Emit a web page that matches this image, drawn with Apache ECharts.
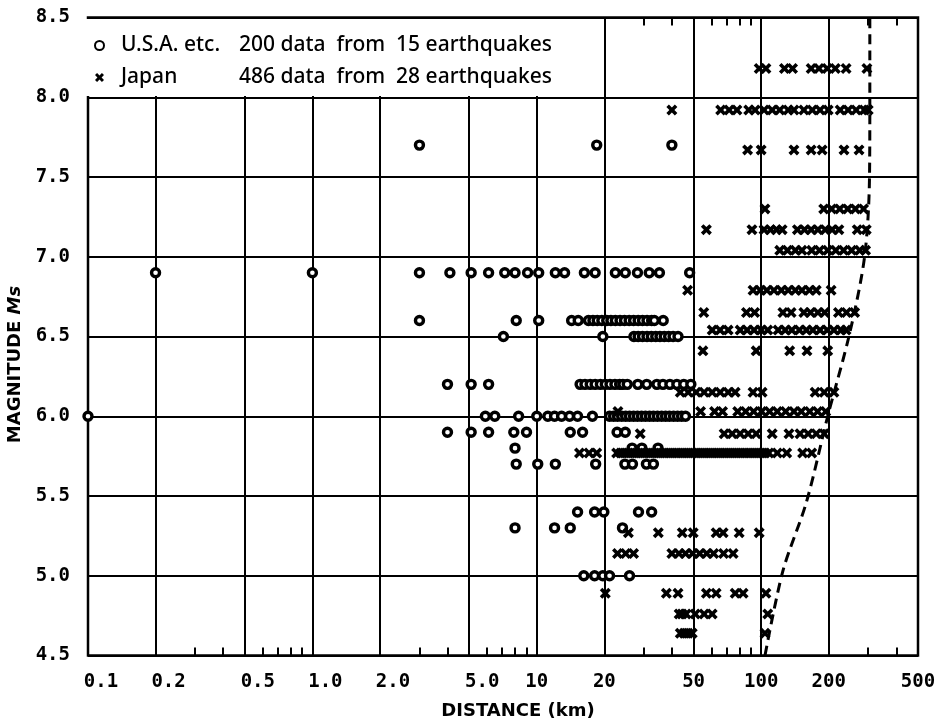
<!DOCTYPE html>
<html><head><meta charset="utf-8">
<script src="https://cdn.jsdelivr.net/npm/echarts@6/dist/echarts.min.js"></script>
<style>html,body{margin:0;padding:0;background:#fff}#c{width:943px;height:720px}</style>
</head><body><div id="c"></div>
<script>
// ---- axis ticks ----
const xTickValues = [0.1, 0.2, 0.5, 1, 2, 5, 10, 20, 50, 100, 200, 500];
const xTickLabels = ['0.1', '0.2', '0.5', '1.0', '2.0', '5.0', '10', '20', '50', '100', '200', '500'];
const xMinorTicks = [0.3, 0.4, 0.6, 0.7, 0.8, 0.9, 3, 4, 6, 7, 8, 9, 30, 40, 60, 70, 80, 90, 300, 400];

// ---- legend ----
const seriesNames = ['U.S.A. etc.', 'Japan'];
const legendNotes = ['200 data  from  15 earthquakes', '486 data  from  28 earthquakes'];

// ---- U.S.A. etc. : magnitude rows and distances (km) ----
const usaMag = [7.7, 6.9, 6.6, 6.5, 6.2, 6.0, 5.9, 5.8, 5.7, 5.4, 5.3, 5.0];
const usaDist = [
  [3.0, 18.5, 40],
  [0.2, 1.0, 3.0, 4.1, 5.1, 6.1, 7.2, 8.0, 9.1, 10.2, 12.1, 13.3, 16.3, 18.2, 22.4, 24.8, 28.1, 31.7, 35.2, 48],
  [3.0, 8.1, 10.2, 14.3, 15.3, 17.0, 17.8, 18.6, 19.5, 20.5, 21.4, 22.4, 23.5, 24.6, 25.8, 27.0, 28.3, 29.6, 31.0, 32.5, 33.4, 36.6],
  [7.1, 19.7, 27.1, 28.3, 29.6, 31.0, 32.4, 33.9, 35.4, 37.0, 38.7, 40.5, 42.6],
  [4.0, 5.1, 6.1, 15.6, 16.4, 17.3, 18.2, 19.2, 20.2, 21.2, 22.3, 23.4, 24.2, 25.3, 28.2, 30.9, 34.3, 36.5, 39.2, 42.1, 45.2, 48.6],
  [0.1, 5.9, 6.5, 8.3, 10.0, 11.2, 12.0, 12.9, 14.0, 15.2, 17.7, 21.1, 22.0, 22.9, 23.9, 24.9, 25.9, 27.0, 28.1, 29.3, 30.5, 31.8, 33.1, 34.5, 36.0, 37.5, 39.0, 40.7, 42.4, 44.2, 46.0],
  [4.0, 5.1, 6.1, 7.9, 9.0, 14.1, 16.0, 22.8, 24.8],
  [8.0, 26.6, 29.4, 34.7],
  [8.1, 10.1, 12.1, 18.3, 24.7, 26.7, 30.8, 33.1],
  [15.2, 18.1, 19.9, 28.4, 32.5],
  [8.0, 12.0, 14.1, 24.1],
  [16.2, 18.1, 19.7, 21.1, 25.9]
];

// ---- Japan : magnitude rows and distances (km) ----
const japanMag = [8.18, 7.92, 7.67, 7.3, 7.17, 7.04, 6.79, 6.65, 6.54, 6.41, 6.15, 6.03, 5.89, 5.77, 5.27, 5.14, 4.89, 4.76, 4.64];
const japanDist = [
  [98, 105, 127, 138, 167, 181, 197, 214, 239, 296],
  [40, 66, 72, 78, 88, 94, 103, 112, 121, 132, 140, 155, 169, 183, 199, 225, 244, 265, 288, 300],
  [87, 100, 140, 167, 187, 234, 273],
  [104, 190, 206, 224, 243, 263, 286],
  [57, 91, 103, 110, 117, 124, 145, 156, 167, 179, 193, 207, 222, 268, 294],
  [121, 131, 142, 152, 168, 182, 198, 215, 233, 253, 275, 292],
  [47, 92, 99, 106, 114, 123, 132, 142, 152, 164, 176, 205],
  [55.5, 86, 93.5, 125, 136, 155, 166, 179, 192, 221, 240, 261],
  [60.5, 65.6, 71.3, 80.6, 86.6, 93, 100, 107, 119, 128, 137, 148, 159, 170, 183, 197, 211, 227, 239],
  [55, 95, 134, 160, 198],
  [43.6, 47.3, 51.3, 55.7, 60.5, 65.7, 71.3, 76.6, 92, 101, 174, 191, 211],
  [23, 53.7, 62, 67.3, 78.6, 85.3, 92.6, 100.5, 109, 118, 128.6, 140, 151, 164.6, 178.5, 194],
  [28.9, 68.4, 74.3, 80.6, 87.5, 95, 112, 133, 149, 162, 176, 191],
  [15.5, 17.1, 18.5, 22.7, 23.7, 24.7, 25.7, 26.8, 27.9, 29.1, 30.3, 31.6, 32.9, 34.3, 35.7, 37.2, 38.8, 40.4, 42.1, 43.9, 45.7, 47.6, 49.6, 51.7, 53.9, 56.1, 58.5, 60.9, 63.5, 66.1, 68.9, 71.8, 74.8, 77.9, 81.2, 84.6, 88.2, 91.9, 95.7, 99.7, 103.9, 108.2, 118, 130, 153, 168],
  [25.6, 34.8, 44.5, 49.8, 63, 67.7, 79.8, 98],
  [22.9, 24.9, 27, 40, 43, 46, 49.5, 53.2, 57.2, 61.4, 68, 75],
  [20.2, 37.8, 42.6, 57, 63, 76.6, 83.1, 105],
  [43.1, 44.4, 46.3, 50.8, 55.7, 60.5, 107],
  [43.6, 45.4, 47.3, 49.3, 104]
];

// ---- dashed limit curve (distance km, magnitude) ----
const curveDist = [104, 125, 159, 198, 248, 289, 304, 305, 305];
const curveMag  = [4.5, 5.03, 5.46, 6.0, 6.52, 7.0, 7.5, 8.0, 8.5];

function toPoints(mags, dists) {
  const out = [];
  mags.forEach((m, i) => dists[i].forEach(d => out.push([d, m])));
  return out;
}
function tickText(v) {
  const i = xTickValues.findIndex(t => Math.abs(Math.log10(t) - Math.log10(v)) < 1e-6);
  if (i < 0) return '';
  const s = xTickLabels[i];
  return s.indexOf('.') >= 0 ? '{d|' + s + '}' : '{n|' + s + '}';
}

const tickFont = { fontFamily: 'DejaVu Sans Mono', fontWeight: 'bold', fontSize: 19, color: '#000' };
const textFont = 'Noto Sans';
const nameFont = 'DejaVu Sans';
const crossPath = 'path://M0,2.3L2.3,0L5,2.7L7.7,0L10,2.3L7.3,5L10,7.7L7.7,10L5,7.3L2.3,10L0,7.7L2.7,5Z';
const legendTok = { fontSize: 21, fontFamily: textFont, fontWeight: 500, color: '#000', lineHeight: 26 };

const chart = echarts.init(document.getElementById('c'), null, { renderer: 'canvas' });
chart.setOption({
  backgroundColor: '#fff',
  animation: false,
  grid: {
    left: 88, right: 25, top: 17.5, bottom: 64.5, containLabel: false, outerBoundsMode: 'none',
    show: true, borderColor: '#000', borderWidth: 2.5, backgroundColor: 'transparent'
  },
  legend: {
    data: seriesNames,
    orient: 'vertical', left: 86, top: 19, itemGap: 11,
    padding: [16, 10, 8, 8],
    backgroundColor: '#fff',
    itemWidth: 9, itemHeight: 9,
    selectedMode: false,
    formatter: name => {
      const i = seriesNames.indexOf(name);
      return '{s| }{a|' + name + '}{b|' + legendNotes[i] + '}';
    },
    textStyle: {
      color: '#000', fontFamily: textFont, fontSize: 21,
      rich: {
        s: Object.assign({}, legendTok, { width: 12 }),
        a: Object.assign({}, legendTok, { width: 118 }),
        b: Object.assign({}, legendTok)
      }
    }
  },
  xAxis: [
    {
      type: 'log', min: 0.1, max: 500, position: 'bottom',
      name: 'DISTANCE (km)', nameLocation: 'middle', nameGap: 47,
      nameTextStyle: { fontFamily: nameFont, fontSize: 18, fontWeight: 'bold', color: '#000', padding: [0, 0, 0, 30] },
      axisLine: { show: false },
      axisTick: { show: false, customValues: xTickValues },
      axisLabel: {
        customValues: xTickValues, margin: 17, formatter: tickText,
        rich: {
          d: Object.assign({ padding: [0, 0, 0, 26] }, tickFont),
          n: Object.assign({}, tickFont)
        }
      },
      splitLine: { show: true, lineStyle: { color: '#000', width: 2 } }
    },
    {
      type: 'log', min: 0.1, max: 500, position: 'bottom',
      axisLine: { show: false },
      axisTick: { show: true, inside: true, length: 8, customValues: xMinorTicks, lineStyle: { color: '#000', width: 2 } },
      axisLabel: { show: false },
      splitLine: { show: false }
    },
    {
      type: 'log', min: 0.1, max: 500, position: 'top',
      axisLine: { show: false },
      axisTick: { show: true, inside: true, length: 8, customValues: xMinorTicks, lineStyle: { color: '#000', width: 2 } },
      axisLabel: { show: false },
      splitLine: { show: false }
    }
  ],
  yAxis: {
    type: 'value', min: 4.5, max: 8.5, interval: 0.5,
    name: 'MAGNITUDE {i|Ms}', nameLocation: 'middle', nameGap: 52,
    nameTextStyle: {
      fontFamily: nameFont, fontSize: 18, fontWeight: 'bold', color: '#000', padding: [0, 56, 0, 0],
      rich: { i: { fontFamily: nameFont, fontSize: 18, fontStyle: 'italic', fontWeight: 'bold', color: '#000' } }
    },
    axisLine: { show: false },
    axisTick: { show: false },
    axisLabel: Object.assign({ margin: 18, formatter: v => v.toFixed(1) }, tickFont),
    splitLine: { show: true, lineStyle: { color: '#000', width: 2 } }
  },
  series: [
    {
      name: seriesNames[0], type: 'scatter', xAxisIndex: 0,
      symbol: 'circle', symbolSize: 8,
      itemStyle: { color: '#fff', borderColor: '#000', borderWidth: 3.4, opacity: 1 },
      data: toPoints(usaMag, usaDist), z: 4
    },
    {
      name: seriesNames[1], type: 'scatter', xAxisIndex: 0,
      symbol: crossPath, symbolSize: 11,
      itemStyle: { color: '#000', opacity: 1 },
      data: toPoints(japanMag, japanDist), z: 5
    },
    {
      name: 'limit', type: 'line', xAxisIndex: 0, smooth: 0.3, showSymbol: false, symbol: 'none',
      lineStyle: { color: '#000', width: 3, type: [10, 6] },
      data: curveDist.map((d, i) => [d, curveMag[i]]), z: 6
    }
  ]
});
</script>
</body></html>
